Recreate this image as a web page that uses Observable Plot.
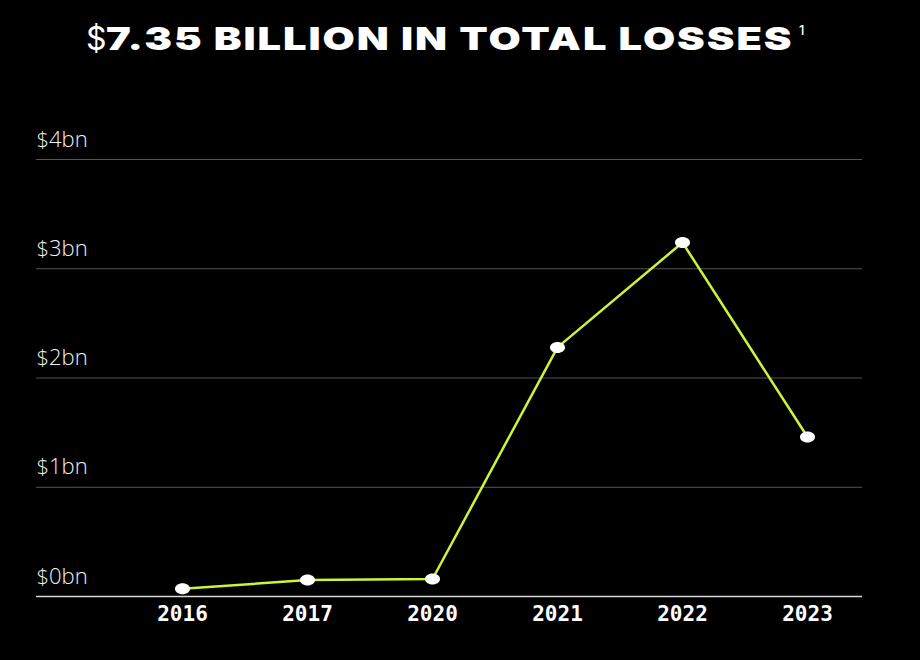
<!DOCTYPE html>
<html>
<head>
<meta charset="utf-8">
<script src="https://cdn.jsdelivr.net/npm/d3@7"></script>
<script src="https://cdn.jsdelivr.net/npm/@observablehq/plot@0.6"></script>
<style>
  html, body { margin: 0; padding: 0; background: #000; }
  #wrap { width: 920px; height: 660px; background: #000; position: relative; overflow: hidden; }
  #title { height: 80px; position: relative; color: #fff; font-family: Inter, "Noto Sans", sans-serif; }
  #title .dollar { position: absolute; left: 86px; top: 19px; font-weight: 400; font-size: 32px; line-height: 40px; }
  #title .main { position: absolute; left: 106px; top: 19px; font-weight: 900; font-size: 32px; line-height: 40px; letter-spacing: 1.5px;
    white-space: nowrap; transform: scaleX(1.3); transform-origin: left center; }
  #title .sup { position: absolute; left: 799px; top: 22px; font-size: 13px; font-weight: 500; line-height: 16px; }
  svg { display: block; }
</style>
</head>
<body>
<div id="wrap">
  <div id="title"><span class="dollar">$</span><span class="main">7.35 BILLION IN TOTAL LOSSES</span><span class="sup">1</span></div>
  <div id="chart"></div>
</div>
<script>
const years = ["2016", "2017", "2020", "2021", "2022", "2023"];
const losses = [0.07, 0.15, 0.16, 2.28, 3.24, 1.46]; // $ billions
const yTicks = [0, 1, 2, 3, 4];
const yTickLabels = ["$0bn", "$1bn", "$2bn", "$3bn", "$4bn"];

const data = years.map((y, i) => ({year: y, value: losses[i]}));
const ticks = yTicks.map((v, i) => ({v, label: yTickLabels[i]}));

const ellipse = {
  draw(context, size) {
    const r = Math.sqrt(size / Math.PI);
    const rx = r * 1.3, ry = r * 0.95, k = 0.5523;
    context.moveTo(rx, 0);
    context.bezierCurveTo(rx, ry * k, rx * k, ry, 0, ry);
    context.bezierCurveTo(-rx * k, ry, -rx, ry * k, -rx, 0);
    context.bezierCurveTo(-rx, -ry * k, -rx * k, -ry, 0, -ry);
    context.bezierCurveTo(rx * k, -ry, rx, -ry * k, rx, 0);
    context.closePath();
  }
};

const W = 920, H = 580;
const chart = Plot.plot({
  width: W,
  height: H,
  marginLeft: 36,
  marginRight: 58,
  marginTop: 79,
  marginBottom: 64,
  style: {background: "#000", color: "#fff", fontFamily: "Inter, sans-serif"},
  x: {type: "point", domain: years, range: [181, 807], padding: 0, label: null},
  y: {domain: [0, 4], label: null, axis: null},
  marks: [
    Plot.ruleY(yTicks.filter(d => d > 0), {stroke: "#555", strokeWidth: 1}),
    Plot.ruleY([0], {stroke: "#d8d8d8", strokeWidth: 1.5}),
    Plot.text(ticks, {y: "v", text: "label", frameAnchor: "left", textAnchor: "start", lineAnchor: "bottom", dy: -13,
      fill: "#f0f0f0", fontSize: 22, fontWeight: 300, fontFamily: "'Open Sans', sans-serif",
      style: {letterSpacing: "1.3px"}}),
    Plot.axisX({tickSize: 0, tickPadding: 10, fontSize: 21, fontWeight: 700, fill: "#fff",
      fontFamily: "'DejaVu Sans Mono', monospace", label: null}),
    Plot.line(data, {x: "year", y: "value", stroke: "#ccf53a", strokeWidth: 2.5}),
    Plot.dot(data, {x: "year", y: "value", symbol: ellipse, r: 5.8, fill: "#fff", stroke: "none"})
  ]
});
document.getElementById("chart").appendChild(chart);
</script>
</body>
</html>
